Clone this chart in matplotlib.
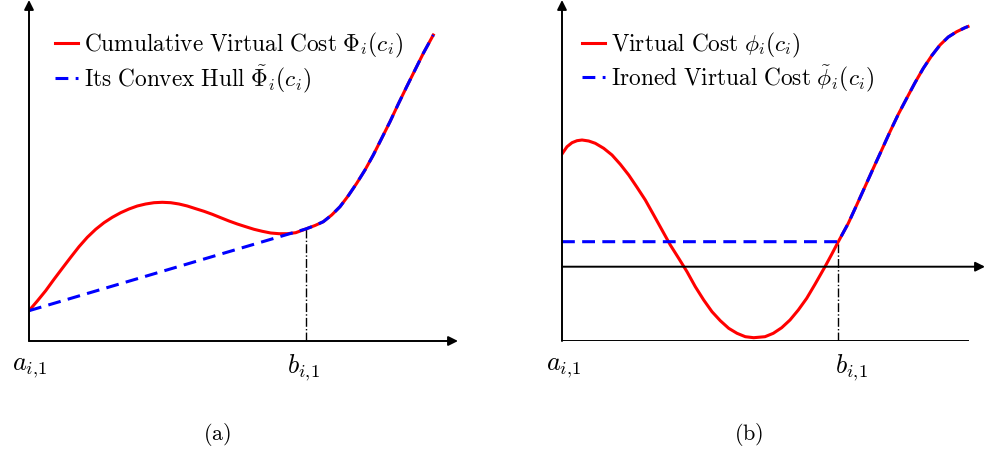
import matplotlib
matplotlib.use("Agg")
import matplotlib.pyplot as plt

plt.rcParams['mathtext.fontset'] = 'cm'
plt.rcParams['font.family'] = 'serif'

# panel (a): cumulative virtual cost (origin = axes corner)
a_x = [0, 8.3, 16.7, 25, 33.3, 41.7, 50, 58.3, 66.7, 75, 83.3, 91.7, 100, 108.3,
       116.7, 125, 133.3, 141.7, 150, 158.3, 166.7, 175, 183.3, 191.7, 200, 208.3,
       216.7, 225, 233.3, 241.7, 250, 258.3, 266.7, 276.7, 286, 294.3, 302.7, 311,
       319.3, 327.7, 336, 344.3, 352.7, 361, 369.3, 377.7, 386, 394.3, 404.3]
a_y = [30.3, 40, 50.3, 61.7, 72.7, 83.7, 94.3, 103.7, 111.7, 118.3, 123.7, 128.3,
       132, 135, 137, 138.3, 138.7, 138.3, 137, 135, 132.3, 129.7, 126.7, 123.3, 120,
       117, 114.3, 111.7, 109.7, 108, 107.3, 107.3, 108.3, 112, 115.5, 119.3, 126,
       134.3, 145.3, 157.7, 171, 186, 202.7, 219.3, 237, 254.3, 271, 287.7, 306]
a_b_idx = 33         # index of b_{i,1} in the arrays

# panel (b): virtual cost
b_x = [0, 5, 10, 15, 20, 26.7, 33.3, 41.7, 50, 58.3, 66.7, 75, 83.3, 91.7, 100,
       108.3, 116.7, 125, 133.3, 141.7, 150, 158.3, 166.7, 175, 183.3, 191.7, 203,
       211.3, 219.7, 228, 236.3, 244.7, 253, 263, 269.7, 276.3, 286.3, 294.7, 303,
       311.3, 319.7, 328, 336.3, 344.7, 353, 361.3, 369.7, 378, 386.3, 394.7, 403, 406]
b_y = [187, 194.3, 198.3, 200.3, 201, 200, 197.7, 192.7, 186, 176.7, 166, 153.7, 141,
       126, 111, 96, 82.7, 69.3, 54.3, 41, 29.3, 20.3, 12.7, 7.7, 4.3, 3.3, 4.3, 7.7,
       13.3, 21, 31, 42.7, 56.7, 74.3, 86.7, 99.3, 117.7, 136, 154.3, 172.7, 191,
       209.3, 226.7, 242.7, 258.3, 272.7, 285.3, 296, 304, 309.3, 313.3, 314.5]
b_b_idx = 35
b_zero = 74.3        # height of the horizontal axis

red = '#ff0000'
blue = '#0000ff'
lw = 2.2

fig = plt.figure(figsize=(9.85, 4.51), dpi=100)

arrow = dict(arrowstyle='-|>', lw=1.4, color='black', mutation_scale=14,
             shrinkA=0, shrinkB=0)
leg_kw = dict(loc='upper left', frameon=False, fontsize=16.8, handlelength=1.0,
              handletextpad=0.25, labelspacing=0.15, borderaxespad=0, borderpad=0)

# ---------- panel (a) ----------
ax1 = fig.add_axes([29/985, 110/451, 429/985, 341/451])
ax1.set_xlim(0, 429)
ax1.set_ylim(0, 341)
ax1.axis('off')

ax1.annotate('', xy=(429, 0), xytext=(0, 0), arrowprops=arrow, annotation_clip=False)
ax1.annotate('', xy=(0, 341), xytext=(0, 0), arrowprops=arrow, annotation_clip=False)

ax1.plot([a_x[a_b_idx]] * 2, [0, a_y[a_b_idx]], color='black', lw=1.0, ls='-.')
ax1.plot(a_x, a_y, color=red, lw=lw, solid_joinstyle='round',
         label=r'$\mathrm{Cumulative\ Virtual\ Cost}\ \Phi_i(c_i)$')
hull_x = [0] + a_x[a_b_idx:]
hull_y = [a_y[0]] + a_y[a_b_idx:]
ax1.plot(hull_x, hull_y, color=blue, lw=lw, dashes=(4.2, 2.4),
         label=r'$\mathrm{Its\ Convex\ Hull}\ \tilde{\Phi}_i(c_i)$')

ax1.legend(bbox_to_anchor=(26/429, 0.91), **leg_kw)

# ---------- panel (b) ----------
ax2 = fig.add_axes([562/985, 110/451, 423/985, 341/451])
ax2.set_xlim(0, 423)
ax2.set_ylim(0, 341)
ax2.axis('off')

ax2.annotate('', xy=(0, 341), xytext=(0, 0), arrowprops=arrow, annotation_clip=False)
ax2.annotate('', xy=(423, b_zero), xytext=(0, b_zero), arrowprops=arrow,
             annotation_clip=False)
ax2.plot([0, 406], [0, 0], color='black', lw=1.4)

ax2.plot([b_x[b_b_idx]] * 2, [0, b_y[b_b_idx]], color='black', lw=1.0, ls='-.')
ax2.plot(b_x, b_y, color=red, lw=lw, solid_joinstyle='round',
         label=r'$\mathrm{Virtual\ Cost}\ \phi_i(c_i)$')
iron_x = [0] + b_x[b_b_idx:]
iron_y = [b_y[b_b_idx]] + b_y[b_b_idx:]
ax2.plot(iron_x, iron_y, color=blue, lw=lw, dashes=(4.2, 2.4),
         label=r'$\mathrm{Ironed\ Virtual\ Cost}\ \tilde{\phi}_i(c_i)$')

ax2.legend(bbox_to_anchor=(20/423, 0.91), **leg_kw)

# ---------- labels ----------
def px(x, y, s, size=19):
    fig.text(x/985, 1 - y/451, s, ha='center', va='center', fontsize=size)

px(30, 368, r'$a_{i,\!1}$')
px(304, 368, r'$b_{i,\!1}$')
px(564, 368, r'$a_{i,\!1}$')
px(852, 368, r'$b_{i,\!1}$')
px(217, 435, r'$\mathrm{(a)}$', 16)
px(749, 435, r'$\mathrm{(b)}$', 16)

fig.savefig('out.png', dpi=100)
